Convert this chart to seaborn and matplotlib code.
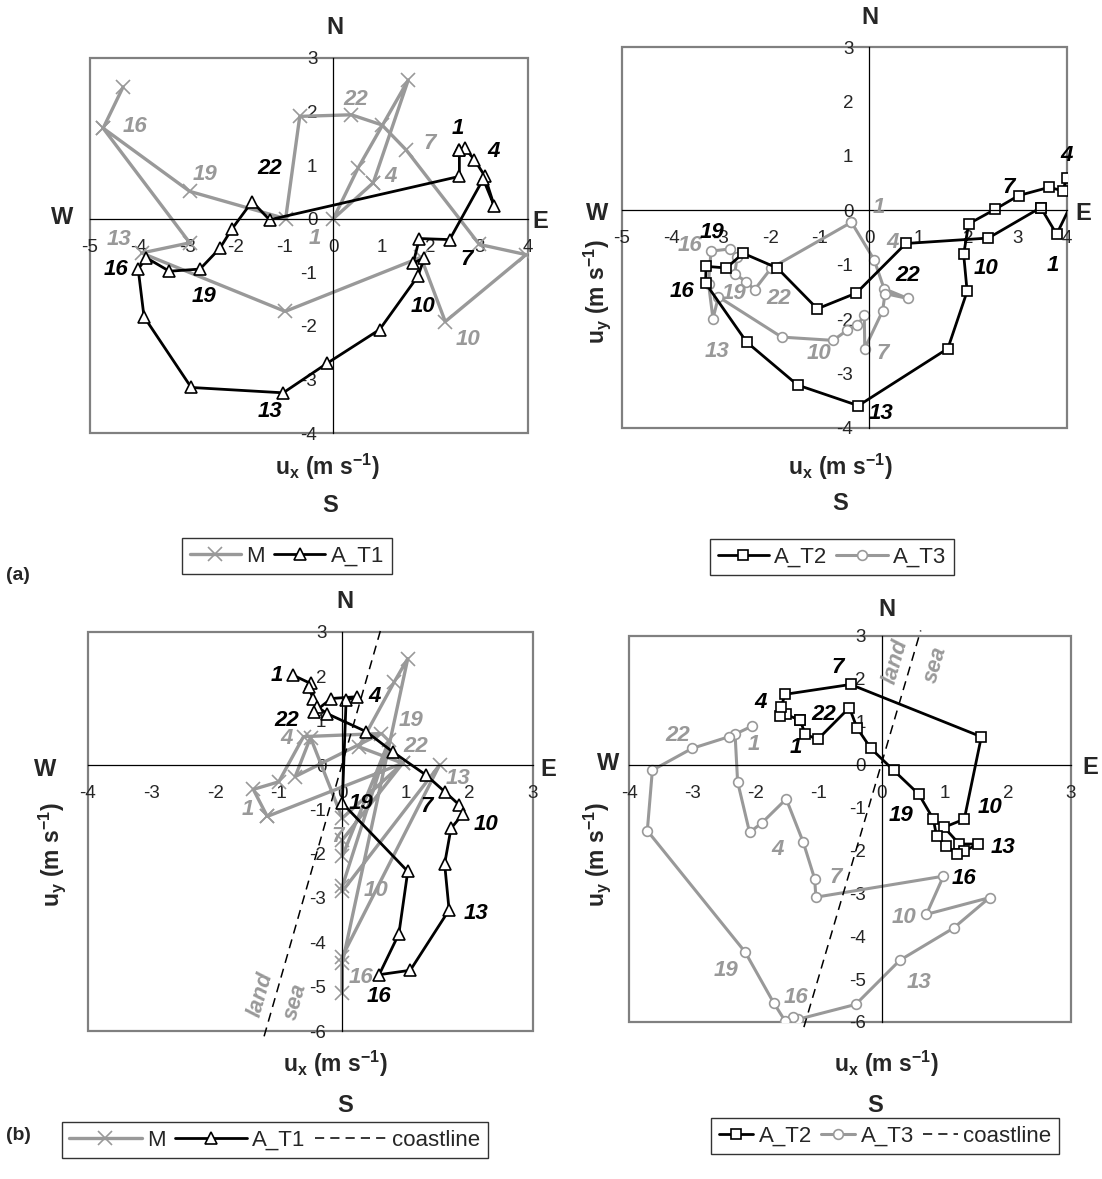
import numpy as np
import pandas as pd
import seaborn as sns
import matplotlib.pyplot as plt
from matplotlib.lines import Line2D
from matplotlib.patches import Rectangle

# ---------------- data ----------------
# (a) left panel: M (two separate strokes) and A_T1
m_a_x = [-4.32, -4.73, -2.95, -3.94, -0.99, 1.80, 2.30, 3.96, 3.00, 1.50, 1.00, 0.37, -0.69, -0.98, -2.95, -4.73,
         0.82, 0.00, 0.51, 1.54, 0.82]
m_a_y = [2.46, 1.69, -0.45, -0.64, -1.73, -0.72, -1.92, -0.67, -0.48, 1.28, 1.75, 1.94, 1.91, 0.00, 0.51, 1.69,
         0.67, 0.00, 0.95, 2.59, 0.67]
m_a_seg = [0] * 16 + [1] * 5

t1_a_x = [2.59, 2.70, 2.90, 3.11, 3.31, 3.08, 2.39, 1.77, 1.64, 1.87, 1.74, 0.95, -0.13, -1.03, -2.92, -3.89,
          -4.01, -3.84, -3.37, -2.74, -2.33, -2.09, -1.67, -1.31, 2.59, 2.59]
t1_a_y = [1.28, 1.32, 1.10, 0.80, 0.23, 0.74, -0.39, -0.37, -0.83, -0.73, -1.07, -2.07, -2.70, -3.25, -3.15, -1.83,
          -0.94, -0.73, -0.98, -0.94, -0.55, -0.20, 0.32, -0.02, 0.79, 1.28]

# (a) right panel: A_T2 and A_T3
t2_a_x = [3.47, 3.79, 4.15, 3.99, 3.92, 3.63, 3.02, 2.55, 2.01, 1.91, 1.98, 1.59, -0.22, -1.45, -2.48, -3.31,
          -3.30, -2.89, -2.55, -1.86, -1.05, -0.26, 0.74, 2.41, 3.47]
t2_a_y = [0.05, -0.44, 0.23, 0.60, 0.36, 0.42, 0.27, 0.02, -0.25, -0.81, -1.49, -2.54, -3.59, -3.21, -2.42, -1.34,
          -1.03, -1.06, -0.79, -1.06, -1.81, -1.52, -0.61, -0.51, 0.05]

t3_a_x = [-0.36, 0.10, 0.30, 0.78, 0.32, 0.27, -0.09, -0.10, -0.24, -0.44, -0.73, -1.77, -3.05, -3.16, -3.25,
          -3.20, -2.81, -2.67, -2.72, -2.49, -2.32, -1.98, -0.36]
t3_a_y = [-0.22, -0.91, -1.44, -1.62, -1.53, -1.85, -2.54, -1.93, -2.11, -2.20, -2.39, -2.33, -1.59, -1.99, -1.35,
          -0.75, -0.71, -0.85, -1.17, -1.31, -1.46, -1.06, -0.22]

# (b) left panel: M and A_T1
m_b_x = [-1.18, -1.40, -1.00, -0.61, 0.61, -0.74, -0.50, 0.00, 0.95, 0.00, 0.00, 0.74, 0.00, 0.00, 1.53, 0.00,
         0.00, 0.00, 1.03, 0.82, 0.26, 0.95, -1.18]
m_b_y = [-1.16, -0.55, -0.38, 0.64, 0.71, -0.26, 0.62, -1.20, 0.04, -1.69, -2.06, 0.56, -2.74, -2.85, 0.00, -4.32,
         -5.14, -4.47, 2.40, 1.88, 0.41, 0.04, -1.16]

t1_b_x = [-0.78, -0.50, -0.53, -0.46, -0.39, -0.24, 0.38, 0.79, 1.32, 1.61, 1.84, 1.90, 1.71, 1.61, 1.68, 1.07,
          0.58, 0.89, 1.03, 0.00, 0.06, 0.23, -0.17, -0.44]
t1_b_y = [2.03, 1.84, 1.76, 1.50, 1.31, 1.16, 0.75, 0.30, -0.23, -0.60, -0.90, -1.10, -1.43, -2.23, -3.27, -4.63,
          -4.73, -3.81, -2.40, -0.86, 1.46, 1.54, 1.50, 1.20]

# (b) right panel: A_T2 and A_T3
t2_b_x = [-1.29, -1.52, -1.61, -1.59, -1.53, -0.49, 1.58, 1.31, 0.99, 1.23, 1.52, 1.31, 1.20, 1.02, 0.87, 0.82,
          0.59, 0.19, -0.17, -0.39, -0.51, -1.01, -1.21, -1.29]
t2_b_y = [1.04, 1.17, 1.13, 1.34, 1.64, 1.87, 0.65, -1.27, -1.46, -1.85, -1.85, -2.02, -2.08, -1.89, -1.66, -1.27,
          -0.69, -0.13, 0.38, 0.86, 1.33, 0.59, 0.71, 1.04]

t3_b_x = [-2.05, -2.32, -2.28, -2.09, -1.89, -1.51, -1.24, -1.06, -1.04, 0.98, 0.71, 1.71, 1.14, 0.29, -0.41,
          -1.33, -1.41, -1.53, -1.71, -2.16, -3.71, -3.63, -3.00, -2.42]
t3_b_y = [0.90, 0.71, -0.40, -1.58, -1.35, -0.80, -1.81, -2.66, -3.09, -2.60, -3.49, -3.10, -3.81, -4.56, -5.59,
          -5.94, -5.88, -5.97, -5.55, -4.37, -1.54, -0.13, 0.38, 0.65]

# coastline (panel b)
coast_x = [-1.23, 0.62]
coast_y = [-6.12, 3.13]

# hour labels: (text, x, y)
lab_al_black = [("1", 2.56, 1.69), ("4", 3.30, 1.25), ("7", 2.73, -0.76), ("10", 1.84, -1.63),
                ("13", -1.31, -3.60), ("16", -4.46, -0.95), ("19", -2.65, -1.45), ("22", -1.31, 0.94)]
lab_al_gray = [("1", -0.38, -0.36), ("4", 1.18, 0.79), ("7", 1.98, 1.41), ("10", 2.77, -2.25),
               ("13", -4.40, -0.39), ("16", -4.08, 1.72), ("19", -2.64, 0.82), ("22", 0.47, 2.22)]
lab_ar_black = [("1", 3.72, -1.01), ("4", 3.99, 1.00), ("7", 2.81, 0.42), ("10", 2.37, -1.07),
                ("13", 0.24, -3.73), ("16", -3.78, -1.50), ("19", -3.18, -0.41), ("22", 0.78, -1.20)]
lab_ar_gray = [("1", 0.20, 0.05), ("4", 0.47, -0.59), ("7", 0.27, -2.63), ("10", -1.01, -2.63),
               ("13", -3.08, -2.60), ("16", -3.62, -0.65), ("19", -2.74, -1.53), ("22", -1.83, -1.62)]
lab_bl_black = [("1", -1.03, 2.03), ("4", 0.50, 1.54), ("7", 1.32, -0.94), ("10", 2.26, -1.35),
                ("13", 2.10, -3.34), ("16", 0.58, -5.22), ("19", 0.29, -0.86), ("22", -0.87, 1.01)]
lab_bl_gray = [("1", -1.48, -1.01), ("4", -0.87, 0.60), ("7", -0.08, -1.61), ("10", 0.53, -2.82),
               ("13", 1.82, -0.30), ("16", 0.29, -4.80), ("19", 1.08, 1.01), ("22", 1.16, 0.41)]
lab_br_black = [("1", -1.36, 0.40), ("4", -1.91, 1.44), ("7", -0.70, 2.26), ("10", 1.71, -1.00),
                ("13", 1.92, -1.93), ("16", 1.31, -2.66), ("19", 0.31, -1.19), ("22", -0.91, 1.17)]
lab_br_gray = [("1", -2.02, 0.48), ("4", -1.65, -1.97), ("7", -0.72, -2.63), ("10", 0.36, -3.56),
               ("13", 0.60, -5.07), ("16", -1.36, -5.42), ("19", -2.47, -4.80), ("22", -3.23, 0.67)]

# ---------------- style ----------------
sns.set_style("white")
plt.rcParams['font.family'] = ['Liberation Sans', 'DejaVu Sans']
plt.rcParams['axes.unicode_minus'] = False
plt.rcParams['mathtext.fontset'] = 'custom'
plt.rcParams['mathtext.rm'] = 'Liberation Sans'
plt.rcParams['mathtext.bf'] = 'Liberation Sans:bold'

GRAY = '#999999'
BLACK = 'black'
W, H = 1102, 1179


def px(x, y):
    return (x / W, 1 - y / H)


def setup(ax, xlim, ylim):
    ax.set_xlim(xlim)
    ax.set_ylim(ylim)
    for s in ['top', 'right']:
        ax.spines[s].set_visible(False)
    for s in ['left', 'bottom']:
        ax.spines[s].set_position(('data', 0))
        ax.spines[s].set_color('black')
        ax.spines[s].set_linewidth(0.9)
    ax.set_xticks(range(xlim[0], xlim[1] + 1))
    ax.set_yticks(range(ylim[0], ylim[1] + 1))
    ax.tick_params(axis='x', direction='out', length=4.5, width=0.9, pad=10, labelsize=13.5)
    ax.tick_params(axis='y', direction='out', length=4.5, width=0.9, pad=7, labelsize=13.5)
    ax.grid(False)
    ax.add_patch(Rectangle((0, 0), 1, 1, transform=ax.transAxes, fill=False,
                           edgecolor='#808080', lw=1.6, clip_on=False, zorder=0.5))


def series(ax, xs, ys, color, marker, ms, lw, mfc='white', units=None, **kw):
    df = pd.DataFrame({'x': xs, 'y': ys, 'u': units if units is not None else [0] * len(xs)})
    sns.lineplot(data=df, x='x', y='y', units='u', estimator=None, sort=False, ax=ax,
                 color=color, lw=lw, marker=marker, markersize=ms, markerfacecolor=mfc,
                 markeredgecolor=color, markeredgewidth=1.2, legend=False, **kw)
    ax.set_xlabel('')
    ax.set_ylabel('')


def labels(ax, items, color):
    for t, x, y in items:
        ax.text(x, y, t, color=color, fontsize=16, fontweight='bold', fontstyle='italic',
                ha='center', va='center')


UX = r'u$_\mathbf{x}$ (m s$^\mathbf{-1}$)'
UY = r'u$_\mathbf{y}$ (m s$^\mathbf{-1}$)'


def outer(fig, pos):
    for key, txt in [('N', 'N'), ('S', 'S'), ('W', 'W'), ('E', 'E')]:
        fig.text(*px(*pos[key]), txt, fontsize=17, fontweight='bold', ha='center', va='center')
    fig.text(*px(*pos['ux']), UX, fontsize=16.5, fontweight='bold', ha='center', va='center')
    if 'uy' in pos:
        fig.text(*px(*pos['uy']), UY, fontsize=16.5, fontweight='bold', ha='center', va='center',
                 rotation=90)


fig = plt.figure(figsize=(W / 100, H / 100), dpi=100)

ax_al = fig.add_axes([90 / W, 1 - 433 / H, 438 / W, 375 / H])
ax_ar = fig.add_axes([622 / W, 1 - 428 / H, 445 / W, 381 / H])
ax_bl = fig.add_axes([88 / W, 1 - 1031 / H, 445 / W, 399 / H])
ax_br = fig.add_axes([629 / W, 1 - 1022 / H, 442 / W, 386 / H])

setup(ax_al, (-5, 4), (-4, 3))
setup(ax_ar, (-5, 4), (-4, 3))
setup(ax_bl, (-4, 3), (-6, 3))
setup(ax_br, (-4, 3), (-6, 3))

# panel (a) left
series(ax_al, m_a_x, m_a_y, GRAY, 'x', 10, 2.4, units=m_a_seg)
series(ax_al, t1_a_x, t1_a_y, BLACK, '^', 8, 2.0)
labels(ax_al, lab_al_gray, GRAY)
labels(ax_al, lab_al_black, BLACK)

# panel (a) right
series(ax_ar, t3_a_x, t3_a_y, GRAY, 'o', 7, 2.2)
series(ax_ar, t2_a_x, t2_a_y, BLACK, 's', 7.5, 2.0)
labels(ax_ar, lab_ar_gray, GRAY)
labels(ax_ar, lab_ar_black, BLACK)

# panel (b) left
series(ax_bl, m_b_x, m_b_y, GRAY, 'x', 10, 2.4)
series(ax_bl, t1_b_x, t1_b_y, BLACK, '^', 8, 2.0)
series(ax_bl, coast_x, coast_y, BLACK, None, 0, 1.1, linestyle=(0, (6, 4)), clip_on=False)
labels(ax_bl, lab_bl_gray, GRAY)
labels(ax_bl, lab_bl_black, BLACK)
ax_bl.text(-1.29, -5.18, 'land', color=GRAY, fontsize=16, fontweight='bold', fontstyle='italic',
           rotation=74, ha='center', va='center')
ax_bl.text(-0.74, -5.33, 'sea', color=GRAY, fontsize=16, fontweight='bold', fontstyle='italic',
           rotation=74, ha='center', va='center')

# panel (b) right
series(ax_br, t3_b_x, t3_b_y, GRAY, 'o', 7, 2.2)
series(ax_br, t2_b_x, t2_b_y, BLACK, 's', 7.5, 2.0)
series(ax_br, coast_x, coast_y, BLACK, None, 0, 1.1, linestyle=(0, (6, 4)), clip_on=False)
labels(ax_br, lab_br_gray, GRAY)
labels(ax_br, lab_br_black, BLACK)
ax_br.text(0.23, 2.41, 'land', color=GRAY, fontsize=16, fontweight='bold', fontstyle='italic',
           rotation=74, ha='center', va='center')
ax_br.text(0.86, 2.34, 'sea', color=GRAY, fontsize=16, fontweight='bold', fontstyle='italic',
           rotation=74, ha='center', va='center')

# outer direction letters and axis titles
outer(fig, {'N': (335, 28), 'S': (330, 506), 'W': (62, 218), 'E': (540, 222), 'ux': (327, 467)})
outer(fig, {'N': (870, 18), 'S': (840, 503), 'W': (597, 213), 'E': (1083, 214), 'ux': (840, 467),
            'uy': (597, 292)})
outer(fig, {'N': (345, 602), 'S': (345, 1106), 'W': (45, 770), 'E': (548, 770), 'ux': (335, 1064),
            'uy': (52, 855)})
outer(fig, {'N': (887, 610), 'S': (875, 1106), 'W': (608, 763), 'E': (1090, 768), 'ux': (886, 1064),
            'uy': (597, 855)})

fig.text(*px(18, 575), '(a)', fontsize=14, fontweight='bold', ha='center', va='center')
fig.text(*px(18, 1135), '(b)', fontsize=14, fontweight='bold', ha='center', va='center')

# legends
h_m = Line2D([], [], color=GRAY, lw=2.4, marker='x', ms=10, mec=GRAY, mew=1.2)
h_t1 = Line2D([], [], color=BLACK, lw=2.0, marker='^', ms=8, mfc='white', mec=BLACK, mew=1.2)
h_t2 = Line2D([], [], color=BLACK, lw=2.0, marker='s', ms=7.5, mfc='white', mec=BLACK, mew=1.2)
h_t3 = Line2D([], [], color=GRAY, lw=2.2, marker='o', ms=7, mfc='white', mec=GRAY, mew=1.2)
h_c = Line2D([], [], color=BLACK, lw=1.1, linestyle=(0, (6, 4)))


def legend(handles, names, center, hl):
    lg = fig.legend(handles, names, loc='center', bbox_to_anchor=px(*center), ncol=len(handles),
                    frameon=True, fancybox=False, edgecolor='black', fontsize=16, handlelength=hl,
                    handletextpad=0.25, columnspacing=0.4, borderpad=0.35, borderaxespad=0)
    lg.get_frame().set_linewidth(1.0)


legend([h_m, h_t1], ['M', 'A_T1'], (287, 556), 2.3)
legend([h_t2, h_t3], ['A_T2', 'A_T3'], (832, 557), 2.3)
legend([h_m, h_t1, h_c], ['M', 'A_T1', 'coastline'], (275, 1140), 3.25)
legend([h_t2, h_t3, h_c], ['A_T2', 'A_T3', 'coastline'], (885, 1136), 1.55)

fig.savefig('out.png', dpi=100)
